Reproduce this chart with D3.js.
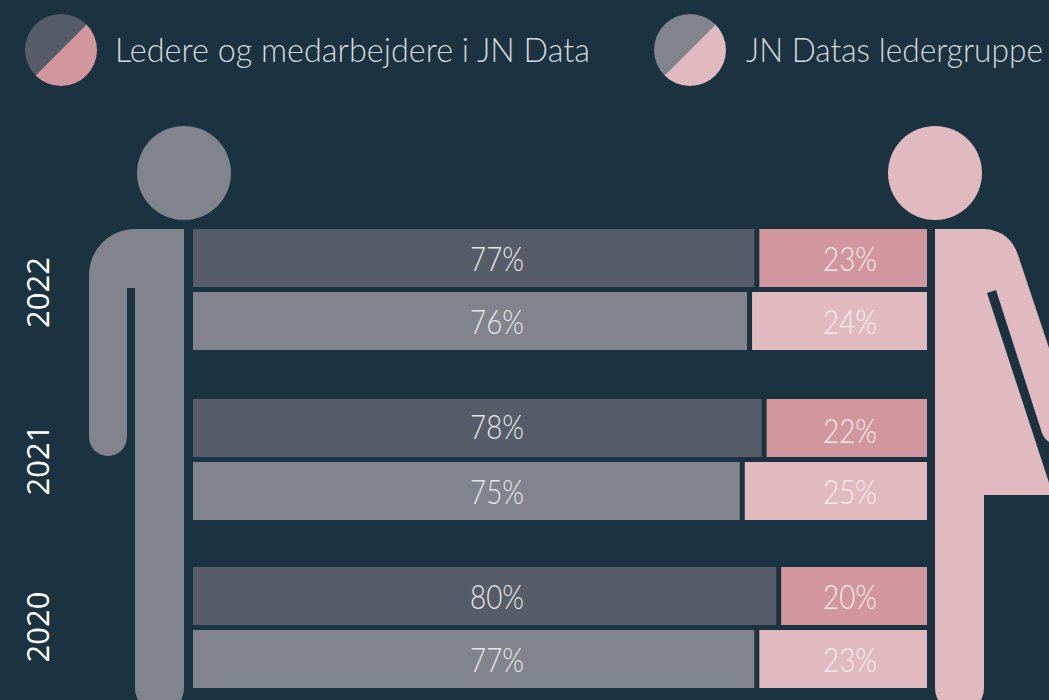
<!DOCTYPE html>
<html><head><meta charset="utf-8">
<script src="https://cdn.jsdelivr.net/npm/d3@7"></script>
<style>html,body{margin:0;padding:0;background:#1b3340;overflow:hidden}svg{display:block}</style>
</head><body><svg id="c" width="1049" height="700"></svg>
<script>
const years = ["2022","2021","2020"];
const staffMen = [77,78,80];
const staffWomen = [23,22,20];
const mgmtMen = [76,75,77];
const mgmtWomen = [24,25,23];
const legendLabels = ["Ledere og medarbejdere i JN Data","JN Datas ledergruppe"];

const DARK="#565d68", GREY="#81848c", ROSE="#d2969e", PINK="#e1babf";
const FONT="Lato, 'Open Sans', sans-serif";
const svg=d3.select("#c");

const w=d3.scaleLinear().domain([0,100]).range([0,729]);
const yGroup=d3.scaleOrdinal().domain(years).range([229,399,567]);
const yLabel=d3.scaleOrdinal().domain(years).range([292.5,460,627]);
const barH=58, rowStep=63, left=193, right=927;

const rows=years.flatMap((yr,i)=>[
 {yr,row:0,m:staffMen[i],f:staffWomen[i],cm:DARK,cf:ROSE},
 {yr,row:1,m:mgmtMen[i],f:mgmtWomen[i],cm:GREY,cf:PINK}]);
const rowY=d=>yGroup(d.yr)+d.row*rowStep;

// legend
const arc=d3.arc().innerRadius(0).outerRadius(36);
const leg=svg.selectAll("g.leg").data(legendLabels).join("g").attr("class","leg")
 .attr("transform",(d,i)=>`translate(${[61,690][i]},50)`);
leg.append("path").attr("d",arc({startAngle:Math.PI*0.25-Math.PI,endAngle:Math.PI*0.25})).attr("fill",(d,i)=>[DARK,GREY][i]);
leg.append("path").attr("d",arc({startAngle:Math.PI*0.25,endAngle:Math.PI*1.25})).attr("fill",(d,i)=>[ROSE,PINK][i]);
leg.append("text").text(d=>d).attr("x",(d,i)=>[54,56][i]).attr("y",12)
 .attr("textLength",(d,i)=>[475,297][i]).attr("lengthAdjust","spacingAndGlyphs")
 .attr("font-family",FONT).attr("font-weight",300).attr("font-size",33).attr("fill","#d3d9dc");

// man
const man=d3.path();
man.moveTo(184,229); man.lineTo(184,688);
man.arc(159.5,688,24.5,0,Math.PI,false);
man.lineTo(135,288); man.lineTo(127,288); man.lineTo(127,437);
man.arc(108,437,19,0,Math.PI,false);
man.lineTo(89,275); man.arcTo(89,229,135,229,46); man.closePath();
svg.append("circle").attr("cx",184).attr("cy",173).attr("r",47).attr("fill",GREY);
svg.append("path").attr("d",man.toString()).attr("fill",GREY);

// woman
const wom=d3.path();
wom.moveTo(935,229); wom.lineTo(985,229);
wom.quadraticCurveTo(1010,231,1018,255);
wom.lineTo(1060,381); wom.lineTo(1060,445); wom.lineTo(1049,442);
wom.quadraticCurveTo(1043,438,1041,430);
wom.lineTo(996,290); wom.lineTo(987,293); wom.lineTo(1053,495);
wom.lineTo(984,495); wom.lineTo(984,688);
wom.arc(959.5,688,24.5,0,Math.PI,false);
wom.closePath();
svg.append("circle").attr("cx",935).attr("cy",173).attr("r",47).attr("fill",PINK);
svg.append("path").attr("d",wom.toString()).attr("fill",PINK);

// bars
svg.selectAll("rect.m").data(rows).join("rect").attr("class","m")
 .attr("x",left).attr("y",rowY).attr("width",d=>w(d.m)).attr("height",barH).attr("fill",d=>d.cm);
svg.selectAll("rect.f").data(rows).join("rect").attr("class","f")
 .attr("x",d=>right-w(d.f)).attr("y",rowY).attr("width",d=>w(d.f)).attr("height",barH).attr("fill",d=>d.cf);

// value labels
const nudge=(cls,d)=>d.yr==="2021"&&d.row===0?(cls==="lf"?2:-2):0;
const lab=(cls,x,key,fill)=>svg.selectAll("text."+cls).data(rows).join("text").attr("class",cls)
 .text(d=>d[key]+"%").attr("x",x).attr("y",d=>rowY(d)+42+nudge(cls,d))
 .attr("text-anchor","middle").attr("textLength",54).attr("lengthAdjust","spacingAndGlyphs")
 .attr("font-family",FONT).attr("font-weight",300).attr("font-size",34).attr("fill",fill);
lab("lm",497,"m","#e4e6e8");
lab("lf",850,"f","#f6ecee");

// years
svg.selectAll("text.yr").data(years).join("text").attr("class","yr").text(d=>d)
 .attr("transform",d=>`translate(49,${yLabel(d)}) rotate(-90)`).attr("text-anchor","middle")
 .attr("font-family","'Open Sans',sans-serif").attr("font-size",31).attr("fill","#ffffff");
</script></body></html>
